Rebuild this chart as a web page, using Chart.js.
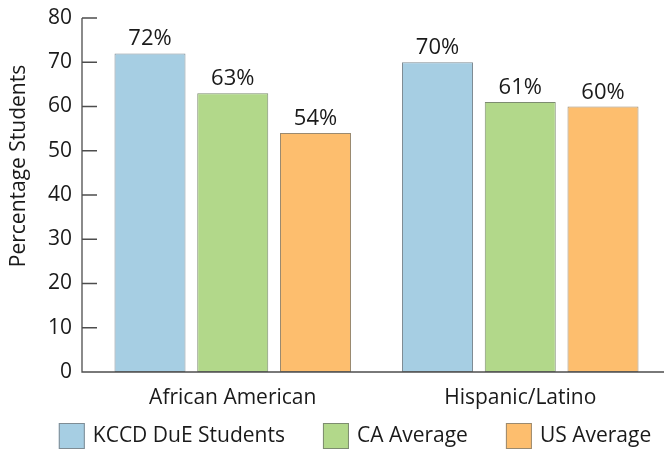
<!DOCTYPE html>
<html>
<head>
<meta charset="utf-8">
<style>
  html, body { margin: 0; padding: 0; background: #fff; }
  #wrap { width: 665px; height: 450px; position: relative; }
</style>
<script src="https://cdn.jsdelivr.net/npm/chart.js@4/dist/chart.umd.min.js"></script>
</head>
<body>
<div id="wrap"><canvas id="chart" width="665" height="450"></canvas></div>
<script>
// Categories and series
const groups = ['African American', 'Hispanic/Latino'];
const seriesNames = ['KCCD DuE Students', 'CA Average', 'US Average'];
const kccdValues = [72, 70];
const caValues = [63, 61];
const usValues = [54, 60];
const yMin = 0;
const yMax = 80;
const yStep = 10;
const yTitle = 'Percentage Students';

const FONT = '"Open Sans", "DejaVu Sans", sans-serif';
const INK = '#1a1a1a';
const AXIS = '#4d4d4d';
const fills = ['#a6cee3', '#b2d88a', '#fdbe6e'];
const edges = ['#7f8c94', '#7d8c70', '#9a8a70'];

// Axis lines with inward ticks, drawn from the scales
const axesPlugin = {
  id: 'axesPlugin',
  afterDatasetsDraw(chart) {
    const {ctx, chartArea, scales: {y}} = chart;
    const ax = chartArea.left - 7;
    const y0 = y.getPixelForValue(yMin);
    const yTop = y.getPixelForValue(yMax);
    ctx.save();
    ctx.strokeStyle = AXIS;
    ctx.lineWidth = 1.3;
    ctx.beginPath();
    ctx.moveTo(ax, yTop);
    ctx.lineTo(ax, y0);
    ctx.lineTo(chartArea.right, y0);
    y.ticks.forEach(t => {
      const py = y.getPixelForValue(t.value);
      ctx.moveTo(ax, py);
      ctx.lineTo(ax + 15, py);
    });
    ctx.stroke();
    ctx.restore();
  }
};

// Percentage labels above each bar
const valueLabels = {
  id: 'valueLabels',
  afterDatasetsDraw(chart) {
    const {ctx} = chart;
    ctx.save();
    ctx.font = '22px ' + FONT;
    ctx.fillStyle = INK;
    ctx.textAlign = 'center';
    ctx.textBaseline = 'alphabetic';
    chart.data.datasets.forEach((ds, di) => {
      chart.getDatasetMeta(di).data.forEach((bar, i) => {
        ctx.fillText(ds.data[i] + '%', bar.x, bar.y - 8);
      });
    });
    ctx.restore();
  }
};

// Rotated y-axis title
const yTitlePlugin = {
  id: 'yTitlePlugin',
  afterDraw(chart) {
    const {ctx} = chart;
    ctx.save();
    ctx.translate(25, 166);
    ctx.rotate(-Math.PI / 2);
    ctx.font = '21px ' + FONT;
    ctx.fillStyle = INK;
    ctx.textAlign = 'center';
    ctx.textBaseline = 'alphabetic';
    ctx.fillText(yTitle, 0, 0);
    ctx.restore();
  }
};

// Single-row legend under the category labels
const legendRow = {
  id: 'legendRow',
  afterDraw(chart) {
    const {ctx} = chart;
    const box = 26, gapText = 8, gapItem = 38, centerX = 355, boxTop = 423;
    ctx.save();
    ctx.font = '21px ' + FONT;
    const items = chart.data.datasets.map(ds => ({
      text: ds.label, fill: ds.backgroundColor, edge: ds.borderColor,
      w: box + gapText + ctx.measureText(ds.label).width
    }));
    const total = items.reduce((s, it) => s + it.w, 0) + gapItem * (items.length - 1);
    let x = centerX - total / 2;
    items.forEach(it => {
      ctx.fillStyle = it.fill;
      ctx.fillRect(x, boxTop, box, box);
      ctx.strokeStyle = it.edge;
      ctx.lineWidth = 1;
      ctx.strokeRect(x + 0.5, boxTop + 0.5, box - 1, box - 1);
      ctx.fillStyle = INK;
      ctx.textAlign = 'left';
      ctx.textBaseline = 'middle';
      ctx.fillText(it.text, x + box + gapText, boxTop + box / 2);
      x += it.w + gapItem;
    });
    ctx.restore();
  }
};

const seriesData = [kccdValues, caValues, usValues];

new Chart(document.getElementById('chart'), {
  type: 'bar',
  data: {
    labels: groups,
    datasets: seriesNames.map((name, k) => ({
      label: name,
      data: seriesData[k],
      backgroundColor: fills[k],
      borderColor: edges[k],
      borderWidth: 1,
      borderSkipped: false,
      categoryPercentage: 0.8635,
      barPercentage: 0.858
    }))
  },
  options: {
    responsive: false,
    animation: false,
    events: [],
    layout: { padding: { left: 0, right: 1, top: 18, bottom: 40 } },
    plugins: {
      legend: { display: false },
      tooltip: { enabled: false }
    },
    scales: {
      x: {
        grid: { display: false, drawTicks: false },
        border: { display: false },
        ticks: { font: { family: FONT, size: 21 }, color: INK, padding: 13 },
        afterFit(scale) { scale.height = 38; scale.paddingLeft = 0; scale.paddingRight = 0; }
      },
      y: {
        min: yMin,
        max: yMax,
        grid: { display: false, drawTicks: false },
        border: { display: false },
        ticks: { stepSize: yStep, font: { family: FONT, size: 21 }, color: INK, padding: 17 },
        afterFit(scale) { scale.width = 89; scale.paddingTop = 0; scale.paddingBottom = 0; }
      }
    }
  },
  plugins: [axesPlugin, valueLabels, yTitlePlugin, legendRow]
});
</script>
</body>
</html>
